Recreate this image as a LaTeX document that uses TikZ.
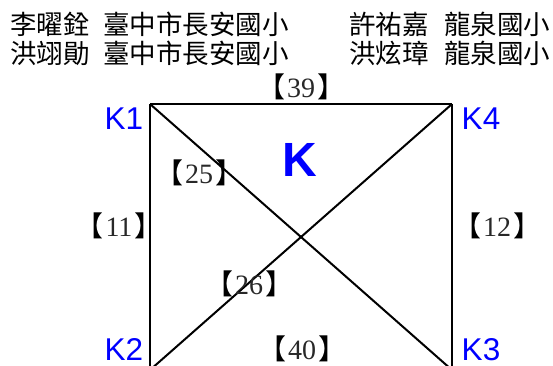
\documentclass[tikz,border=0pt]{standalone}
\usepackage{fontspec}
\setmainfont{Liberation Serif}
\newfontfamily\cjkfont{Noto Sans CJK TC}
\newfontfamily\kfont{Liberation Sans}
\definecolor{kblue}{RGB}{0,0,255}
\definecolor{numgray}{RGB}{40,40,40}
\tikzset{
  cjktext/.style={font=\cjkfont\fontsize{26.5}{26.5}\selectfont, inner sep=0pt, anchor=west},
  corner/.style={font=\kfont\fontsize{31.5}{31.5}\selectfont, text=kblue, inner sep=0pt, text depth=0pt, anchor=base},
  weight/.style={font=\fontsize{28}{28}\selectfont, inner sep=0pt, text=numgray},
  edge/.style={line width=2pt, black}
}
\newcommand{\wlabel}[1]{{\cjkfont\color{black}【}\kern2pt#1\kern2pt{\cjkfont\color{black}】}}
\begin{document}
\begin{tikzpicture}[x=1pt,y=-1pt]
\useasboundingbox (0,0) rectangle (553,365);
% header
\node[cjktext] (n1) at (10,24) {李曜銓};
\node[cjktext] (s1) at (103,24) {臺中市長安國小};
\node[cjktext] (n2) at (349,24) {許祐嘉};
\node[cjktext] (s2) at (444,24) {龍泉國小};
\node[cjktext] (n3) at (10,53.5) {洪翊勛};
\node[cjktext] (s3) at (103,53.5) {臺中市長安國小};
\node[cjktext] (n4) at (349,53.5) {洪炫璋};
\node[cjktext] (s4) at (444,53.5) {龍泉國小};
% corners
\coordinate (c1) at (150,104);
\coordinate (c4) at (452,104);
\coordinate (c2) at (150,370);
\coordinate (c3) at (452,370);
\begin{scope}
\clip (0,0) rectangle (553,365);
\draw[edge] (c1) -- (c4);
\draw[edge] (c1) -- (c2);
\draw[edge] (c4) -- (c3);
\draw[edge] (c2) -- (c3);
\draw[edge] (c1) -- (c3);
\draw[edge] (c4) -- (c2);
\end{scope}
% corner labels
\node[corner] (k1) at (124,129) {K1};
\node[corner] (k4) at (481,129) {K4};
\node[corner] (k2) at (124,360) {K2};
\node[corner] (k3) at (481,360) {K3};
\node[font=\kfont\bfseries\fontsize{48}{48}\selectfont, text=kblue, inner sep=0pt] (K) at (300,160) {K};
% weights
\node[weight] (w39) at (301,87) {\wlabel{39}};
\node[weight] (w25) at (199,173) {\wlabel{25}};
\node[weight] (w11) at (119,226) {\wlabel{11}};
\node[weight] (w12) at (497,226) {\wlabel{12}};
\node[weight] (w26) at (249,284) {\wlabel{26}};
\node[weight] (w40) at (302,349) {\wlabel{40}};
\end{tikzpicture}
\end{document}
